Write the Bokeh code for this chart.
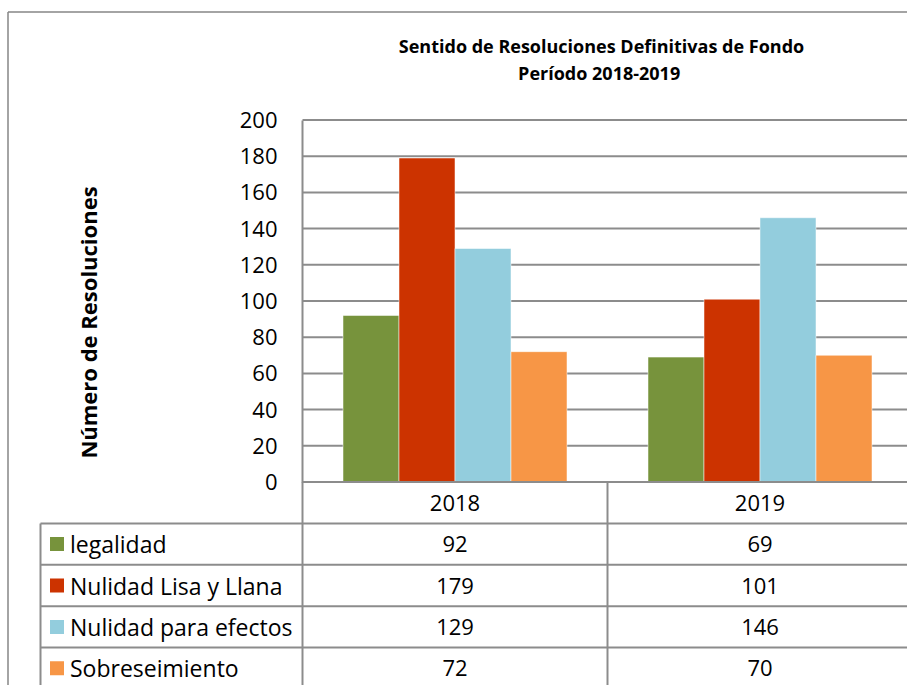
import math
from bokeh.plotting import figure
from bokeh.models import Range1d, LinearAxis, FixedTicker
from bokeh.core.properties import value
from bokeh.embed import file_html
from bokeh.resources import INLINE

# ---------------- data ----------------
years = ["2018", "2019"]
series_names = ["legalidad", "Nulidad Lisa y Llana", "Nulidad para efectos", "Sobreseimiento"]
legalidad = [92, 69]
nulidad_lisa_llana = [179, 101]
nulidad_para_efectos = [129, 146]
sobreseimiento = [72, 70]
series_values = [legalidad, nulidad_lisa_llana, nulidad_para_efectos, sobreseimiento]
series_colors = ["#77933C", "#CC3300", "#93CDDD", "#F79646"]
y_ticks = [0, 20, 40, 60, 80, 100, 120, 140, 160, 180, 200]
title_lines = ["Sentido de Resoluciones Definitivas de Fondo", "Período  2018-2019"]
y_title = "Número de Resoluciones"

# ---------------- layout (canvas pixels) ----------------
W, H = 907, 685
AXIS_PX = 302.0     # x of value axis
CAT_PX = 305.0      # width of one category
ZERO_PX = 481.5     # y of value 0
UNIT_PX = 1.81      # pixels per unit
ROW_PX = 41.4       # data-table row height
BAR_W = 56.0 / CAT_PX
FONT = "Open Sans"
GRID = "#8c8c8c"
BORDER = "#868686"


def cx(px):
    return (px - AXIS_PX) / CAT_PX


def cy(py):
    return (ZERO_PX - py) / UNIT_PX


p = figure(width=W, height=H,
           x_range=Range1d(cx(0), cx(W)),
           y_range=Range1d(cy(H), cy(0)),
           x_axis_location=None, y_axis_location=None,
           toolbar_location=None, output_backend="svg",
           min_border=0, outline_line_color=None,
           background_fill_color="white", border_fill_color="white")
for g in p.grid:
    g.visible = False

p.extra_y_ranges = {"table": Range1d((H - ZERO_PX) / ROW_PX, -ZERO_PX / ROW_PX)}

# value axis drawn at x = 0 (category start)
yaxis = LinearAxis(ticker=FixedTicker(ticks=y_ticks, minor_ticks=[]),
                   fixed_location=0, bounds=(0, y_ticks[-1]),
                   axis_line_color=GRID, axis_line_width=2,
                   major_tick_line_color=None, minor_tick_line_color=None,
                   major_tick_out=0, major_tick_in=0,
                   major_label_standoff=25,
                   major_label_text_font=FONT, major_label_text_font_size="22px",
                   major_label_text_color="black")
p.add_layout(yaxis, "left")

n_cat = len(years)
# gridlines
p.segment(x0=[0] * (len(y_ticks) - 1), x1=[n_cat] * (len(y_ticks) - 1),
          y0=y_ticks[1:], y1=y_ticks[1:], line_color=GRID, line_width=2)

# bars
n_ser = len(series_values)
for i, (vals, col) in enumerate(zip(series_values, series_colors)):
    xs = [j + 0.5 + (i - (n_ser - 1) / 2) * BAR_W for j in range(n_cat)]
    p.vbar(x=xs, width=BAR_W, top=vals, bottom=0, fill_color=col,
           line_color="white", line_alpha=0.5, line_width=1)

# data table lines
TL = cx(40)   # table left edge
rows_t = list(range(1, n_ser + 2))
p.segment(x0=[0], x1=[n_cat], y0=[0], y1=[0], y_range_name="table",
          line_color=GRID, line_width=2)
p.segment(x0=[TL] * len(rows_t), x1=[n_cat] * len(rows_t), y0=rows_t, y1=rows_t,
          y_range_name="table", line_color=GRID, line_width=2)
vx = list(range(n_cat + 1))
p.segment(x0=vx, x1=vx, y0=[0] * len(vx), y1=[n_ser + 1] * len(vx),
          y_range_name="table", line_color=GRID, line_width=2)
p.segment(x0=[TL], x1=[TL], y0=[1], y1=[n_ser + 1], y_range_name="table",
          line_color=GRID, line_width=2)

# header row
p.text(x=[j + 0.5 for j in range(n_cat)], y=[0.5] * n_cat, text=years,
       y_range_name="table", text_align="center", text_baseline="middle",
       text_font=value(FONT), text_font_size="22px", text_color="black")

# value cells
cell_x, cell_t, cell_txt = [], [], []
for i, vals in enumerate(series_values):
    for j, v in enumerate(vals):
        cell_x.append(j + 0.5)
        cell_t.append(i + 1.5)
        cell_txt.append(str(v))
p.text(x=cell_x, y=cell_t, text=cell_txt, y_range_name="table",
       text_align="center", text_baseline="middle",
       text_font=value(FONT), text_font_size="22px", text_color="black")

# legend keys + series names
row_centers = [i + 1.5 for i in range(n_ser)]
p.scatter(x=[cx(56.5)] * n_ser, y=row_centers, marker="square", size=14,
          fill_color=series_colors, line_color=None, y_range_name="table")
p.text(x=[cx(69.5)] * n_ser, y=row_centers, text=series_names, y_range_name="table",
       text_align="left", text_baseline="middle",
       text_font=value(FONT), text_font_size="23px", text_color="black")

# titles
p.text(x=[cx(601)] * 2, y=[cy(45), cy(72)], text=title_lines,
       text_align="center", text_baseline="middle",
       text_font=value(FONT), text_font_size="18px", text_font_style="bold",
       text_color="black")
p.text(x=[cx(87)], y=[cy(322)], text=[y_title], angle=math.pi / 2,
       text_align="center", text_baseline="middle",
       text_font=value(FONT), text_font_size="22px", text_font_style="bold",
       text_color="black")

# chart border (left & top visible)
p.segment(x0=[cx(7.5), cx(7.5)], x1=[cx(7.5), cx(W + 5)],
          y0=[cy(11.5), cy(11.5)], y1=[cy(H + 5), cy(11.5)],
          line_color=BORDER, line_width=1.5)

open("out.html", "w").write(file_html(p, INLINE))
